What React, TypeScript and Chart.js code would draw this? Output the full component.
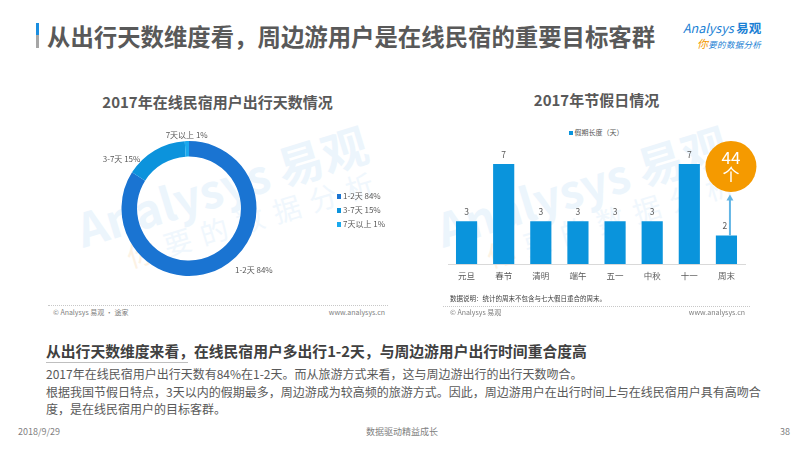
import React, { useEffect, useRef } from "react";
import { Chart, registerables } from "chart.js";

Chart.register(...registerables);

// ---- data ----
const durationLabels = ["1-2天", "3-7天", "7天以上"];
const durationShares = [84, 15, 1];
const durationColors = ["#1a74d2", "#0c93dc", "#1aa9ee"];

const holidayLabels = ["元旦", "春节", "清明", "端午", "五一", "中秋", "十一", "周末"];
const holidayDays = [3, 7, 3, 3, 3, 3, 7, 2];
const holidaySeriesName = "假期长度（天）";
const weekendCount = 44;
const weekendUnit = "个";

const BAR_COLOR = "#0a94dc";
const ORANGE = "#f59a00";
const ARROW = "#62b5e5";
const FONT = '"Noto Sans CJK SC", "Noto Sans", sans-serif';

type TProps = {
  x: number;
  y: number;
  size: number;
  color?: string;
  bold?: boolean;
  align?: "left" | "center" | "right";
  children: React.ReactNode;
  style?: React.CSSProperties;
};

function T({ x, y, size, color = "#595959", bold, align = "left", children, style }: TProps) {
  const top = y - 0.66 * size;
  const base: React.CSSProperties = {
    position: "absolute",
    top,
    fontSize: size,
    lineHeight: `${size * 1.2}px`,
    color,
    fontWeight: bold ? 700 : 400,
    whiteSpace: "nowrap",
    fontFamily: FONT,
  };
  if (align === "left") base.left = x;
  else if (align === "right") base.right = 800 - x;
  else {
    base.left = x - 300;
    base.width = 600;
    base.textAlign = "center";
  }
  return <div style={{ ...base, ...style }}>{children}</div>;
}

const donutLabelPlugin = {
  id: "donutOutsideLabels",
  afterDatasetsDraw(chart: any) {
    const meta = chart.getDatasetMeta(0);
    const ctx = chart.ctx as CanvasRenderingContext2D;
    ctx.save();
    ctx.font = `8px ${FONT}`;
    ctx.fillStyle = "#595959";
    ctx.textBaseline = "middle";
    meta.data.forEach((arc: any, i: number) => {
      const p = arc.getProps(["x", "y", "startAngle", "endAngle", "outerRadius"], true);
      const mid = (p.startAngle + p.endAngle) / 2;
      const cos = Math.cos(mid);
      const sin = Math.sin(mid);
      const text = `${durationLabels[i]} ${durationShares[i]}%`;
      let align: CanvasTextAlign = "center";
      let px = p.x + (p.outerRadius + 28) * cos;
      let py = p.y + (p.outerRadius + (sin < 0 ? -10 : 3)) * sin;
      if (cos > 0.2) align = "left";
      else if (cos < -0.2) align = "right";
      else {
        px = p.x + (p.outerRadius + 6) * cos;
        py = p.y + (p.outerRadius + 6) * sin;
      }
      ctx.textAlign = align;
      ctx.fillText(text, px, py);
    });
    ctx.restore();
  },
};

const barAnnotPlugin = {
  id: "barAnnotations",
  afterDatasetsDraw(chart: any) {
    const meta = chart.getDatasetMeta(0);
    const ctx = chart.ctx as CanvasRenderingContext2D;
    ctx.save();
    ctx.font = `8.5px ${FONT}`;
    ctx.fillStyle = "#595959";
    ctx.textAlign = "center";
    ctx.textBaseline = "middle";
    meta.data.forEach((bar: any, i: number) => {
      const isLast = i === meta.data.length - 1;
      ctx.fillText(String(holidayDays[i]), bar.x - (isLast ? 1.5 : 0), bar.y - 9.5);
    });
    // arrow + bubble on the weekend bar
    const last = meta.data[meta.data.length - 1];
    const ax = last.x + 3.5;
    const tipY = last.y - 41;
    ctx.strokeStyle = ARROW;
    ctx.fillStyle = ARROW;
    ctx.lineWidth = 2;
    ctx.beginPath();
    ctx.moveTo(ax, last.y);
    ctx.lineTo(ax, tipY + 5);
    ctx.stroke();
    ctx.beginPath();
    ctx.moveTo(ax, tipY);
    ctx.lineTo(ax - 3.5, tipY + 6);
    ctx.lineTo(ax + 3.5, tipY + 6);
    ctx.closePath();
    ctx.fill();
    const cx = last.x + 4.5;
    const cy = last.y - 69;
    ctx.fillStyle = ORANGE;
    ctx.beginPath();
    ctx.arc(cx, cy, 25.5, 0, Math.PI * 2);
    ctx.fill();
    ctx.fillStyle = "#ffffff";
    ctx.font = `17px ${FONT}`;
    ctx.fillText(String(weekendCount), cx, cy - 9);
    ctx.fillText(weekendUnit, cx, cy + 8);
    ctx.restore();
  },
};

function DonutChart() {
  const ref = useRef<HTMLCanvasElement>(null);
  useEffect(() => {
    if (!ref.current) return;
    const chart = new Chart(ref.current, {
      type: "doughnut",
      data: {
        labels: durationLabels,
        datasets: [
          {
            data: durationShares,
            backgroundColor: durationColors,
            borderWidth: 0,
          },
        ],
      },
      options: {
        animation: false,
        responsive: false,
        maintainAspectRatio: false,
        cutout: "77%",
        layout: { padding: { left: 81.5, top: 21, right: 143.5, bottom: 14 } },
        plugins: { legend: { display: false }, tooltip: { enabled: false } },
      },
      plugins: [donutLabelPlugin],
    } as any);
    return () => chart.destroy();
  }, []);
  return (
    <canvas
      ref={ref}
      width={360}
      height={170}
      style={{ position: "absolute", left: 40, top: 120, width: 360, height: 170 }}
    />
  );
}

function BarChart() {
  const ref = useRef<HTMLCanvasElement>(null);
  useEffect(() => {
    if (!ref.current) return;
    const chart = new Chart(ref.current, {
      type: "bar",
      data: {
        labels: holidayLabels,
        datasets: [
          {
            label: holidaySeriesName,
            data: holidayDays,
            backgroundColor: BAR_COLOR,
            barPercentage: 0.57,
            categoryPercentage: 1,
          },
        ],
      },
      options: {
        animation: false,
        responsive: false,
        maintainAspectRatio: false,
        layout: { padding: { left: 8, right: 15, top: 29.7, bottom: 11.8 } },
        plugins: { legend: { display: false }, tooltip: { enabled: false } },
        scales: {
          x: {
            grid: { display: false, drawTicks: false },
            border: { display: true, color: "#d9d9d9" },
            ticks: { color: "#595959", font: { size: 8.5, family: FONT }, padding: 7 },
          },
          y: { display: false, min: 0, max: 8 },
        },
      },
      plugins: [barAnnotPlugin],
    } as any);
    return () => chart.destroy();
  }, []);
  return (
    <canvas
      ref={ref}
      width={320}
      height={180}
      style={{ position: "absolute", left: 440, top: 120, width: 320, height: 180 }}
    />
  );
}

function Watermark({ x, y }: { x: number; y: number }) {
  return (
    <div
      style={{
        position: "absolute",
        left: x,
        top: y,
        transform: "rotate(-17deg)",
        transformOrigin: "0 0",
        fontFamily: FONT,
        whiteSpace: "nowrap",
        pointerEvents: "none",
      }}
    >
      <div style={{ fontSize: 46, fontWeight: 700, color: "#ecf5fc", lineHeight: "50px" }}>Analysys 易观</div>
      <div style={{ fontSize: 28, color: "#f0f7fd", letterSpacing: 10, lineHeight: "32px", marginLeft: 40 }}>
        <span style={{ color: "#fdf2e4" }}>你</span>要的数据分析
      </div>
    </div>
  );
}

export default function App() {
  useEffect(() => {
    document.body.style.margin = "0";
  }, []);
  return (
    <div
      style={{
        position: "absolute",
        left: 0,
        top: 0,
        width: 800,
        height: 450,
        overflow: "hidden",
        background: "#ffffff",
        fontFamily: FONT,
      }}
    >
      {/* title bar */}
      <div style={{ position: "absolute", left: 36, top: 23, width: 2.5, height: 12, background: "#1a8ee0" }} />
      <div style={{ position: "absolute", left: 36, top: 35, width: 2.5, height: 13, background: "#a6a6a6" }} />
      <T x={47} y={37} size={23.4} bold color="#595959">
        从出行天数维度看，周边游用户是在线民宿的重要目标客群
      </T>

      {/* logo */}
      <T x={683} y={28} size={12.5} color="#1a7fd4" style={{ fontStyle: "italic" }}>
        Analysys <span style={{ fontWeight: 700, fontStyle: "normal" }}>易观</span>
      </T>
      <T x={697} y={44} size={8.5} color="#1a7fd4" style={{ fontStyle: "italic", letterSpacing: 0.3 }}>
        <span style={{ color: "#f39800", fontSize: 11 }}>你</span>要的数据分析
      </T>

      {/* watermarks */}
      <Watermark x={70} y={205} />
      <Watermark x={430} y={205} />

      {/* left chart */}
      <T x={217.5} y={103.3} size={15} bold align="center" color="#595959">
        2017年在线民宿用户出行天数情况
      </T>
      <DonutChart />
      {durationLabels.map((l, i) => (
        <React.Fragment key={l}>
          <div
            style={{
              position: "absolute",
              left: 336.5,
              top: 196 + i * 14 - 2,
              width: 4.5,
              height: 4.5,
              background: durationColors[i],
            }}
          />
          <T x={343} y={196 + i * 14} size={8}>
            {`${l} ${durationShares[i]}%`}
          </T>
        </React.Fragment>
      ))}
      <div style={{ position: "absolute", left: 48, top: 305, width: 340, borderTop: "1px dotted #c8c8c8" }} />
      <T x={53} y={312.5} size={7} color="#7f7f7f">
        © Analysys 易观 · 途家
      </T>
      <T x={385} y={312.5} size={7} color="#7f7f7f" align="right">
        www.analysys.cn
      </T>

      {/* right chart */}
      <T x={596.5} y={100.7} size={15} bold align="center" color="#595959">
        2017年节假日情况
      </T>
      <div style={{ position: "absolute", left: 569, top: 131, width: 4, height: 4, background: BAR_COLOR }} />
      <T x={574.5} y={133} size={7} color="#595959">
        {holidaySeriesName}
      </T>
      <BarChart />
      <T x={450} y={299} size={6.5} color="#404040">
        数据说明：统计的周末不包含与七大假日重合的周末。
      </T>
      <div style={{ position: "absolute", left: 443, top: 305.5, width: 307, borderTop: "1px dotted #c8c8c8" }} />
      <T x={450} y={312.5} size={7} color="#7f7f7f">
        © Analysys 易观
      </T>
      <T x={745} y={312.5} size={7} color="#7f7f7f" align="right">
        www.analysys.cn
      </T>

      {/* summary */}
      <T x={46} y={352} size={14.8} bold color="#404040">
        从出行天数维度来看，在线民宿用户多出行1-2天，与周边游用户出行时间重合度高
      </T>
      <div style={{ position: "absolute", left: 46, top: 362, width: 142, height: 1, background: "#bfbfbf" }} />
      <T x={46} y={375} size={12} color="#595959">
        2017年在线民宿用户出行天数有84%在1-2天。而从旅游方式来看，这与周边游出行的出行天数吻合。
      </T>
      <T x={46} y={392.7} size={12} color="#595959">
        根据我国节假日特点，3天以内的假期最多，周边游成为较高频的旅游方式。因此，周边游用户在出行时间上与在线民宿用户具有高吻合
      </T>
      <T x={46} y={409.5} size={12} color="#595959">
        度，是在线民宿用户的目标客群。
      </T>

      {/* footer */}
      <T x={18} y={433} size={9} color="#7f7f7f">
        2018/9/29
      </T>
      <T x={402} y={433} size={9} color="#7f7f7f" align="center">
        数据驱动精益成长
      </T>
      <T x={790} y={433} size={9} color="#7f7f7f" align="right">
        38
      </T>
    </div>
  );
}
